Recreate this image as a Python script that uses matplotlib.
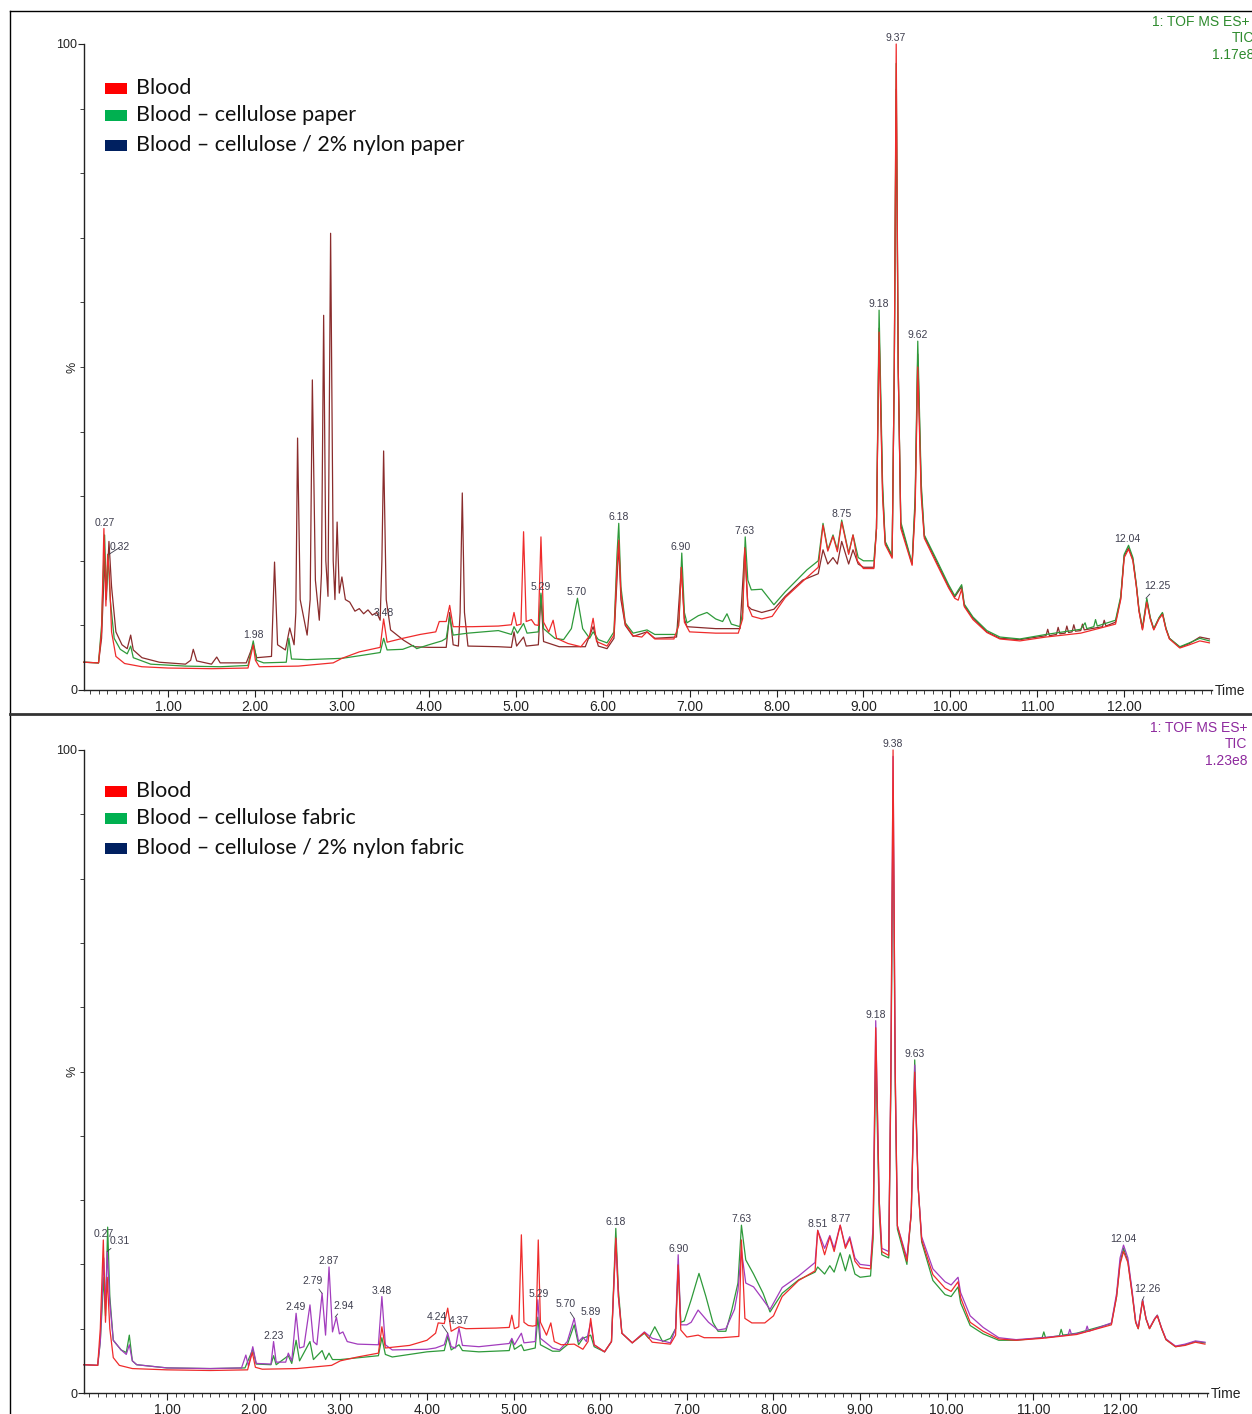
import matplotlib
matplotlib.use("Agg")
import matplotlib.pyplot as plt
import numpy as np
from matplotlib.patches import Rectangle
from matplotlib.lines import Line2D
from matplotlib.ticker import MultipleLocator

# ---------------- data (retention time [min], intensity [%]) ----------------
top_blood = [(0.03,4.3),(0.20,4.2),(0.235,9),(0.262,25.0),(0.285,13),(0.305,21),(0.325,18),(0.35,9),(0.40,5.2),(0.50,4.1),(0.70,3.6),(1.00,3.4),(1.50,3.3),(1.92,3.4),(1.955,5.5),(1.98,7.0),(2.005,4.6),(2.05,3.6),(2.50,3.7),(2.90,4.2),(3.00,4.9),(3.20,5.9),(3.44,6.6),(3.48,11.0),(3.52,7.4),(3.70,8.0),(3.90,8.6),(4.08,9.0),(4.12,10.6),(4.20,10.6),(4.24,13.1),(4.28,9.8),(4.50,9.8),(4.80,9.9),(4.95,10.1),(4.98,12.0),(5.01,10.0),(5.06,10.2),(5.09,24.5),(5.12,10.6),(5.18,10.9),(5.22,10.1),(5.26,10.0),(5.29,23.7),(5.32,10.5),(5.38,9.0),(5.43,10.8),(5.47,8.0),(5.60,7.2),(5.75,6.7),(5.85,8.4),(5.89,11.1),(5.93,7.5),(6.05,6.8),(6.13,8.5),(6.165,19),(6.185,23.2),(6.21,15),(6.26,10.2),(6.35,8.4),(6.45,8.2),(6.51,9.0),(6.60,7.9),(6.82,7.9),(6.875,10),(6.905,19.0),(6.94,10.5),(7.00,9.0),(7.30,8.8),(7.56,8.8),(7.61,11),(7.635,22),(7.67,13),(7.72,11.4),(7.83,11.0),(7.95,11.4),(8.10,14.3),(8.30,16.8),(8.48,19),(8.535,25.5),(8.59,21.5),(8.65,23.8),(8.70,21.4),(8.75,26.0),(8.83,21),(8.88,24),(8.93,20),(9.00,18.8),(9.12,18.8),(9.15,25),(9.18,55.4),(9.22,30),(9.25,22.5),(9.33,20.4),(9.355,50),(9.377,100),(9.40,50),(9.43,25),(9.56,19.3),(9.595,28),(9.625,50),(9.665,30),(9.70,23.5),(9.84,19.6),(9.98,15.8),(10.05,14.2),(10.09,13.9),(10.13,15.6),(10.16,12.9),(10.26,10.9),(10.42,8.9),(10.57,7.9),(10.80,7.6),(11.10,8.2),(11.50,8.8),(11.90,10.2),(11.96,14),(12.00,20.5),(12.05,21.8),(12.10,20),(12.14,16),(12.17,12.2),(12.21,9.3),(12.26,13.6),(12.30,11),(12.34,9.3),(12.40,11),(12.44,11.7),(12.48,9.4),(12.52,7.9),(12.64,6.5),(12.75,7.0),(12.87,7.6),(12.98,7.3)]

top_paper = [(0.03,4.3),(0.20,4.2),(0.235,10),(0.27,24.0),(0.29,15),(0.31,21),(0.335,14),(0.38,8),(0.45,6.3),(0.53,5.6),(0.57,6.8),(0.60,5.0),(0.80,4.0),(1.20,3.7),(1.60,3.6),(1.92,3.8),(1.98,7.6),(2.02,4.6),(2.10,4.2),(2.36,4.3),(2.39,8.0),(2.42,4.8),(2.60,4.7),(3.00,4.9),(3.20,5.3),(3.44,5.8),(3.48,8.0),(3.52,6.2),(3.70,6.3),(3.82,6.9),(3.86,6.4),(4.00,7.0),(4.15,7.6),(4.20,8.0),(4.24,11.3),(4.28,8.5),(4.45,8.8),(4.80,9.2),(4.95,8.6),(4.98,9.8),(5.02,8.8),(5.09,10.3),(5.13,8.8),(5.26,9.0),(5.29,15.0),(5.32,9.5),(5.45,8.0),(5.55,7.8),(5.64,9.5),(5.71,14.2),(5.77,9.5),(5.85,8.0),(5.89,9.0),(5.95,7.8),(6.05,7.3),(6.13,9),(6.165,21),(6.185,25.8),(6.21,16),(6.26,10.4),(6.35,8.8),(6.51,9.3),(6.60,8.6),(6.85,8.6),(6.88,11),(6.91,21.2),(6.94,12),(6.97,10.4),(7.10,11.5),(7.20,12.0),(7.30,11.0),(7.38,10.6),(7.43,11.8),(7.48,10.2),(7.58,9.8),(7.61,12),(7.64,23.7),(7.67,17),(7.71,15.5),(7.83,15.6),(7.97,13.2),(8.10,15.2),(8.35,18.6),(8.48,20),(8.535,25.8),(8.59,21.7),(8.65,24),(8.70,21.7),(8.75,26.3),(8.83,21.2),(8.88,24),(8.94,20.5),(9.00,20),(9.12,20),(9.15,25),(9.18,58.8),(9.22,32),(9.25,23),(9.33,20.8),(9.355,50),(9.377,97),(9.40,50),(9.43,26),(9.56,19.6),(9.595,30),(9.625,54),(9.665,32),(9.70,24),(9.84,20.2),(9.98,16.3),(10.05,14.6),(10.13,16.3),(10.16,13.3),(10.26,11.3),(10.42,9.2),(10.57,8.2),(10.80,7.9),(11.10,8.6),(11.50,9.4),(11.55,10.4),(11.57,9.5),(11.65,9.8),(11.67,10.9),(11.69,9.9),(11.90,10.8),(11.96,14.5),(12.00,21),(12.05,22.4),(12.10,20.5),(12.14,16.3),(12.17,12.5),(12.21,9.6),(12.26,14.2),(12.30,11.2),(12.34,9.5),(12.40,11.2),(12.44,12.0),(12.48,9.6),(12.52,8.0),(12.64,6.7),(12.75,7.3),(12.87,8.0),(12.98,7.6)]

top_nylon = [(0.03,4.3),(0.20,4.2),(0.235,8),(0.27,20),(0.29,14),(0.32,23),(0.35,16),(0.40,9),(0.47,7.0),(0.53,6.4),(0.57,8.5),(0.60,6.2),(0.70,5.0),(0.90,4.3),(1.20,4.0),(1.26,4.6),(1.29,6.3),(1.33,4.5),(1.50,4.0),(1.56,5.1),(1.60,4.2),(1.90,4.2),(1.98,7.0),(2.02,5.0),(2.19,5.2),(2.225,19.8),(2.26,7),(2.35,6.2),(2.40,9.6),(2.45,7.0),(2.47,12),(2.49,39),(2.52,14),(2.60,8.5),(2.635,14),(2.66,48),(2.695,17),(2.74,10.8),(2.765,18),(2.79,58),(2.815,20),(2.84,14.5),(2.87,70.7),(2.90,20),(2.92,14),(2.945,26),(2.97,15),(3.00,17.5),(3.04,14),(3.09,13.6),(3.15,12.2),(3.20,12.6),(3.25,11.8),(3.30,12.4),(3.35,11.6),(3.40,12.0),(3.44,10.8),(3.46,20),(3.48,37),(3.51,14),(3.56,9.3),(3.71,7.7),(3.83,6.7),(4.00,6.6),(4.20,6.6),(4.24,12.0),(4.28,7.0),(4.34,6.8),(4.36,12),(4.385,30.5),(4.41,12),(4.45,6.8),(4.80,6.7),(4.95,6.6),(4.98,9.0),(5.01,6.8),(5.09,8.2),(5.12,6.8),(5.26,7.0),(5.29,14.7),(5.32,7.5),(5.50,6.7),(5.80,6.7),(5.89,9.8),(5.95,6.8),(6.05,6.4),(6.13,8),(6.185,22.5),(6.21,14),(6.26,10),(6.35,8.3),(6.51,9.0),(6.60,8.0),(6.85,8.2),(6.905,19),(6.94,11),(6.97,9.8),(7.30,9.5),(7.58,9.5),(7.635,22),(7.67,13),(7.71,12.5),(7.83,12.0),(7.97,12.5),(8.10,14.5),(8.30,17),(8.48,18),(8.535,21.7),(8.59,19.5),(8.65,20.5),(8.70,19.5),(8.75,23),(8.83,19.5),(8.88,21.7),(8.94,19.5),(9.00,19.0),(9.12,19.0),(9.15,25),(9.18,56),(9.22,31),(9.25,22.8),(9.33,20.6),(9.355,50),(9.377,93),(9.40,50),(9.43,25.5),(9.56,19.5),(9.595,29),(9.625,52),(9.665,31),(9.70,23.8),(9.84,19.9),(9.98,16.0),(10.05,14.4),(10.13,16.0),(10.16,13.1),(10.26,11.1),(10.42,9.0),(10.57,8.0),(10.80,7.8),(11.10,8.4),(11.12,9.4),(11.14,8.4),(11.22,8.6),(11.24,9.7),(11.26,8.7),(11.32,8.8),(11.34,9.9),(11.36,8.9),(11.40,9.0),(11.42,10.1),(11.44,9.1),(11.50,9.2),(11.52,10.2),(11.54,9.3),(11.75,9.8),(11.77,10.8),(11.79,9.9),(11.90,10.5),(11.96,14.2),(12.00,20.8),(12.05,22),(12.10,20.2),(12.14,16.1),(12.17,12.3),(12.21,9.4),(12.26,13.9),(12.30,11.1),(12.34,9.4),(12.40,11.1),(12.44,11.9),(12.48,9.5),(12.52,8.0),(12.64,6.6),(12.75,7.2),(12.87,8.2),(12.98,7.9)]

bot_blood = [(0.04,4.4),(0.20,4.3),(0.23,10),(0.265,23.8),(0.29,11),(0.31,18),(0.34,10),(0.38,5.5),(0.45,4.3),(0.60,3.8),(1.00,3.6),(1.50,3.5),(1.93,3.6),(1.985,6.3),(2.02,4.0),(2.10,3.7),(2.50,3.8),(2.90,4.3),(3.00,5.0),(3.20,5.6),(3.44,6.2),(3.48,10.3),(3.52,7.0),(3.80,7.4),(4.00,8.2),(4.10,9.3),(4.13,10.9),(4.20,10.8),(4.24,13.2),(4.28,9.6),(4.37,10.3),(4.45,10.0),(4.80,10.1),(4.95,10.2),(4.98,12.1),(5.01,10.0),(5.06,10.3),(5.09,24.6),(5.12,11.0),(5.17,10.5),(5.22,10.4),(5.26,10.5),(5.285,23.8),(5.31,11),(5.38,9.0),(5.43,10.9),(5.47,8.0),(5.55,7.5),(5.70,7.6),(5.80,6.8),(5.86,8.0),(5.89,11.6),(5.93,7.5),(6.05,6.4),(6.13,8),(6.18,24.1),(6.21,15),(6.25,9.3),(6.37,7.8),(6.51,9.4),(6.60,7.9),(6.81,7.6),(6.87,9),(6.90,19.9),(6.93,9.8),(7.00,8.7),(7.13,9.0),(7.20,8.6),(7.40,8.6),(7.60,8.8),(7.63,23.8),(7.67,11.6),(7.75,10.9),(7.90,10.9),(8.00,12),(8.10,15),(8.29,17.5),(8.48,19),(8.51,25.3),(8.59,21.5),(8.65,24.3),(8.70,22),(8.77,26.1),(8.83,22.5),(8.88,24),(8.94,20.5),(9.00,19.5),(9.12,19.3),(9.15,25),(9.18,56.8),(9.22,30),(9.25,22),(9.33,21.4),(9.355,50),(9.38,100),(9.405,50),(9.43,26),(9.54,20.5),(9.59,28),(9.63,49.9),(9.67,32),(9.71,23.8),(9.84,18.4),(9.98,16.3),(10.05,15.8),(10.13,17.3),(10.16,14.8),(10.27,11.0),(10.42,9.6),(10.60,8.4),(10.80,8.2),(11.10,8.5),(11.50,9.1),(11.90,10.6),(11.96,15),(12.00,20),(12.04,22.0),(12.09,20.3),(12.14,15.3),(12.18,11),(12.21,10),(12.26,14.3),(12.30,11.5),(12.34,10),(12.40,11.5),(12.43,12),(12.48,10),(12.53,8.3),(12.64,7.2),(12.75,7.4),(12.87,7.9),(12.98,7.6)]

bot_fabric = [(0.04,4.4),(0.20,4.3),(0.23,8),(0.27,18),(0.29,12),(0.315,25.8),(0.34,15),(0.38,8.2),(0.47,6.7),(0.53,6.3),(0.565,9),(0.60,5),(0.65,4.4),(1.00,3.9),(1.50,3.8),(1.90,3.9),(1.99,6.8),(2.03,4.5),(2.20,4.4),(2.23,5.8),(2.26,4.4),(2.40,5.8),(2.44,4.6),(2.49,8.2),(2.53,5.0),(2.65,8.0),(2.69,5.2),(2.79,6.6),(2.83,5.2),(2.87,6.2),(2.91,5.2),(3.00,5.2),(3.44,5.8),(3.48,8.6),(3.52,6.0),(3.60,5.6),(4.00,6.4),(4.20,6.6),(4.24,8.8),(4.28,6.7),(4.37,7.5),(4.41,6.6),(4.60,6.4),(4.95,6.6),(4.98,8.3),(5.01,6.8),(5.09,7.5),(5.12,6.6),(5.25,7.0),(5.28,11.8),(5.31,7.5),(5.45,6.5),(5.53,6.5),(5.62,7.5),(5.70,10.6),(5.75,7.5),(5.80,8.5),(5.89,9.0),(5.93,7.2),(6.05,6.4),(6.13,8),(6.18,25.6),(6.21,16),(6.25,9.3),(6.37,7.8),(6.51,9.3),(6.56,8.5),(6.63,10.3),(6.72,8.0),(6.81,8.5),(6.87,10),(6.90,20),(6.93,11),(6.97,11.2),(7.05,14.5),(7.14,18.6),(7.22,15),(7.30,11),(7.36,9.6),(7.45,9.6),(7.52,13),(7.59,17.1),(7.63,26.1),(7.68,20.7),(7.77,18.5),(7.88,15.5),(7.96,12.6),(8.10,15.5),(8.29,17.6),(8.48,18.8),(8.51,19.6),(8.59,18.5),(8.65,19.8),(8.70,18.8),(8.77,21.8),(8.83,19.0),(8.88,21.5),(8.94,18.5),(9.00,18),(9.12,18.2),(9.15,24),(9.18,52.6),(9.22,28),(9.25,21.5),(9.33,21),(9.355,48),(9.38,92),(9.405,48),(9.43,25.5),(9.54,20),(9.59,28),(9.63,51.8),(9.67,32),(9.71,23.5),(9.84,17.5),(9.98,15.3),(10.05,15),(10.13,16.5),(10.16,14),(10.27,10.5),(10.42,9.2),(10.60,8.2),(10.80,8.2),(11.10,8.6),(11.12,9.5),(11.14,8.6),(11.30,8.9),(11.32,9.9),(11.34,9.0),(11.50,9.3),(11.90,10.8),(11.96,15),(12.00,20.3),(12.04,22.5),(12.09,20.5),(12.14,15.5),(12.18,11),(12.21,10),(12.26,14.5),(12.30,11.5),(12.34,10),(12.40,11.5),(12.43,12.1),(12.48,10),(12.53,8.3),(12.64,7.2),(12.75,7.5),(12.87,8.0),(12.98,7.8)]

bot_nylon = [(0.04,4.4),(0.20,4.3),(0.23,8),(0.27,21),(0.29,13),(0.31,22),(0.34,14),(0.38,8.2),(0.47,6.7),(0.53,6.0),(0.565,7.5),(0.60,5.0),(0.65,4.4),(1.00,3.9),(1.50,3.8),(1.86,3.9),(1.91,5.9),(1.94,4.2),(1.99,7.2),(2.03,4.6),(2.20,4.5),(2.23,8.0),(2.26,4.8),(2.37,4.8),(2.40,6.2),(2.44,5.0),(2.49,12.4),(2.53,7.0),(2.58,7.2),(2.65,13.7),(2.69,8.0),(2.73,7.5),(2.79,15.5),(2.83,9.0),(2.87,19.6),(2.91,9.5),(2.955,11.8),(2.99,9.2),(3.03,9.5),(3.08,8.0),(3.20,7.6),(3.44,7.5),(3.48,15.0),(3.52,7.5),(3.60,6.7),(4.00,6.8),(4.10,7.0),(4.20,7.5),(4.24,9.3),(4.28,7.2),(4.33,7.0),(4.37,10.1),(4.41,7.4),(4.60,7.2),(4.95,7.7),(4.98,8.5),(5.01,7.5),(5.09,9.3),(5.12,7.8),(5.25,8.0),(5.28,14.5),(5.31,8.5),(5.45,7.0),(5.53,6.7),(5.62,8.0),(5.70,11.6),(5.75,8.0),(5.80,8.7),(5.84,8.0),(5.89,11.0),(5.93,7.5),(6.05,6.4),(6.13,8),(6.18,23.8),(6.21,15),(6.25,9.3),(6.37,7.8),(6.51,9.5),(6.60,8.5),(6.81,7.8),(6.87,10),(6.90,21.5),(6.93,10.6),(7.00,10.6),(7.05,11.0),(7.13,12.9),(7.25,11.0),(7.36,9.8),(7.45,10.0),(7.55,13.0),(7.59,16.0),(7.63,22.2),(7.68,17.1),(7.77,16.5),(7.88,14.5),(7.96,13.0),(8.10,16.4),(8.29,18.2),(8.48,20.3),(8.51,25.3),(8.59,22.5),(8.65,24.5),(8.70,22.5),(8.77,26.1),(8.83,22.8),(8.88,24.3),(8.94,21.0),(9.00,20.0),(9.12,19.8),(9.15,26),(9.18,57.9),(9.22,30),(9.25,22.5),(9.33,22),(9.355,50),(9.38,99),(9.405,50),(9.43,26),(9.54,21),(9.59,28),(9.63,51),(9.67,32),(9.71,24.3),(9.84,19.3),(9.98,17.3),(10.05,16.8),(10.13,18),(10.16,15.6),(10.27,12),(10.42,10.2),(10.60,8.6),(10.80,8.3),(11.10,8.6),(11.40,9.0),(11.42,9.9),(11.44,9.1),(11.60,9.5),(11.62,10.4),(11.64,9.6),(11.90,10.9),(11.96,15.5),(12.00,21),(12.04,23.0),(12.09,21),(12.14,15.8),(12.18,11.2),(12.21,10.1),(12.26,14.5),(12.30,11.6),(12.34,10.1),(12.40,11.6),(12.43,12.1),(12.48,10.1),(12.53,8.4),(12.64,7.3),(12.75,7.6),(12.87,8.1),(12.98,7.9)]

top_legend = ["Blood", "Blood \u2013 cellulose paper", "Blood \u2013 cellulose / 2% nylon paper"]
bot_legend = ["Blood", "Blood \u2013 cellulose fabric", "Blood \u2013 cellulose / 2% nylon fabric"]
top_header = ["1: TOF MS ES+", "TIC", "1.17e8"]
bot_header = ["1: TOF MS ES+", "TIC", "1.23e8"]
top_peaks = ["0.27", "0.32", "1.98", "3.48", "5.29", "5.70", "6.18", "6.90", "7.63", "8.75", "9.18", "9.37", "9.62", "12.04", "12.25"]
bot_peaks = ["0.27", "0.31", "2.23", "2.49", "2.79", "2.87", "2.94", "3.48", "4.24", "4.37", "5.29", "5.70", "5.89", "6.18", "6.90", "7.63", "8.51", "8.77", "9.18", "9.38", "9.63", "12.04", "12.26"]
x_ticks = [1, 2, 3, 4, 5, 6, 7, 8, 9, 10, 11, 12]

# ---------------- figure ----------------
W, H = 1252, 1414
fig = plt.figure(figsize=(W / 100, H / 100), dpi=100)
fig.patch.set_facecolor("white")
def fx(px): return px / W
def fy(py): return 1 - py / H

TICKFONT = "Liberation Sans"
RED = "#ef2b2b"
GREEN = "#2e9a3a"
MAROON = "#8a2c2c"
PURPLE = "#a23cbd"
LEG_COLORS = ["#ff0000", "#00b050", "#002060"]
LABEL_COLOR = "#3e3e4e"

def peak_val(trace, t, win=0.025):
    vals = [y for tt, y in trace if abs(tt - t) <= win]
    if vals:
        return max(vals)
    ts, ys = zip(*trace)
    return float(np.interp(t, ts, ys))

def make_panel(x0px, x1px, ytop, ybot, xlim, traces, colors, label_trace,
               peaks, offsets, legend, leg_y, header, header_color, header_x):
    ax = fig.add_axes([fx(x0px), fy(ybot), (x1px - x0px) / W, (ybot - ytop) / H])
    ax.set_xlim(*xlim)
    ax.set_ylim(0, 100)
    for tr, c in zip(traces, colors):
        ts, ys = zip(*tr)
        ax.plot(ts, ys, color=c, lw=0.9, clip_on=False)
    for s in ["top", "right"]:
        ax.spines[s].set_visible(False)
    for s in ["left", "bottom"]:
        ax.spines[s].set_linewidth(1.0)
        ax.spines[s].set_color("#222222")
    ax.set_xticks(x_ticks)
    ax.set_xticklabels([f"{v:.2f}" for v in x_ticks], fontfamily=TICKFONT, fontsize=10)
    ax.xaxis.set_minor_locator(MultipleLocator(0.1))
    ax.tick_params(axis="x", which="major", length=5, width=0.8, pad=2, colors="#222222")
    ax.tick_params(axis="x", which="minor", length=3, width=0.6, colors="#222222")
    ax.set_yticks([0, 100])
    ax.set_yticklabels(["0", "100"], fontfamily=TICKFONT, fontsize=9)
    ax.yaxis.set_minor_locator(MultipleLocator(10))
    ax.tick_params(axis="y", which="major", length=4, width=0.8, pad=1, colors="#222222")
    ax.tick_params(axis="y", which="minor", length=3, width=0.6, colors="#222222")
    ax.set_facecolor("none")
    fig.text(fx(x0px - 12), fy((ytop + ybot) / 2), "%", rotation=90, ha="center",
             va="center", fontsize=9, fontfamily=TICKFONT, color="#222222")
    fig.text(fx(x1px + 3), fy(ybot + 1), "Time", ha="left", va="center",
             fontsize=10, fontfamily=TICKFONT, color="#222222")
    # peak labels
    for lab in peaks:
        t = float(lab)
        own = peak_val(label_trace, t)
        if lab in offsets:
            y = own
            dx, dy = offsets[lab]
            kw = {"arrowprops": dict(arrowstyle="-", color=LABEL_COLOR, lw=0.6,
                                     shrinkA=0, shrinkB=0)}
        else:
            cands = [peak_val(tr, t) for tr in traces]
            y = max([v for v in cands if v - own <= 5] + [own])
            dx, dy = 0, 1
            kw = {}
        ax.annotate(lab, xy=(t, y), xytext=(dx * 0.72, dy * 0.72),
                    textcoords="offset points", ha="center", va="bottom",
                    fontsize=7.5, fontfamily=TICKFONT, color=LABEL_COLOR,
                    annotation_clip=False, **kw)
    # legend
    for i, (txt, yc) in enumerate(zip(legend, leg_y)):
        fig.add_artist(Rectangle((fx(105), fy(yc + 5.5)), 22 / W, 11 / H,
                                 transform=fig.transFigure, color=LEG_COLORS[i], lw=0))
        fig.text(fx(136), fy(yc), txt, ha="left", va="center", fontsize=15.5,
                 fontfamily="Lato", color="#111111")
    # header
    for (txt, yy), hx in zip(zip(header, [ytop - 22, ytop - 6, ytop + 11]), header_x):
        fig.text(fx(hx), fy(yy), txt, ha="right", va="center", fontsize=10,
                 fontfamily=TICKFONT, color=header_color)
    return ax

top_offsets = {"0.32": (11, 2), "12.25": (11, 7)}
bot_offsets = {"0.31": (13, 6), "2.79": (-9, 7), "2.94": (9, 6), "4.24": (-11, 11),
               "5.70": (-9, 9), "12.26": (5, 6)}

make_panel(84, 1212, 44, 690, (0.033, 13.01), [top_nylon, top_paper, top_blood],
           [MAROON, GREEN, RED], top_paper, top_peaks, top_offsets,
           top_legend, [88, 115, 145], top_header, "#2e8b2e", [1249, 1254, 1254])
make_panel(84, 1208, 750, 1393, (0.042, 13.015), [bot_fabric, bot_nylon, bot_blood],
           [GREEN, PURPLE, RED], bot_nylon, bot_peaks, bot_offsets,
           bot_legend, [791, 818, 848], bot_header, "#8e2a9e", [1247, 1247, 1247])

# frame lines
fig.add_artist(Line2D([fx(10), 1], [fy(11), fy(11)], color="black", lw=1.0, transform=fig.transFigure))
fig.add_artist(Line2D([fx(10), fx(10)], [fy(11), 0], color="black", lw=1.0, transform=fig.transFigure))
fig.add_artist(Line2D([fx(10), 1], [fy(714), fy(714)], color="#333333", lw=2.0, transform=fig.transFigure))

fig.savefig("out.png", dpi=100, facecolor="white")
